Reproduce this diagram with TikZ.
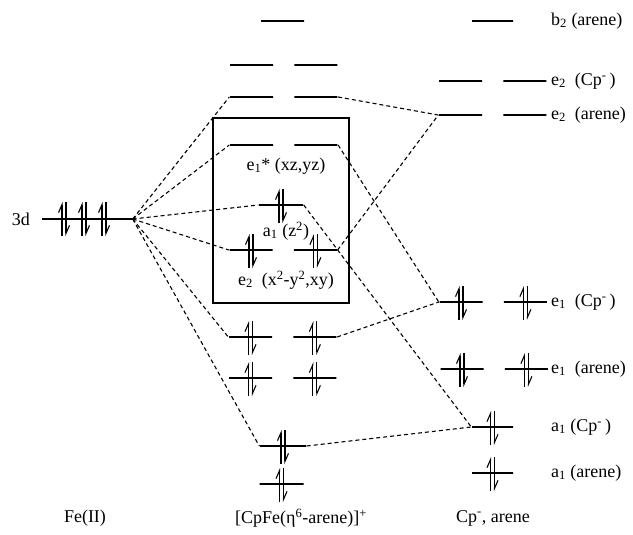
\documentclass[tikz,border=0pt]{standalone}
\usepackage{fontspec}
\setmainfont{Liberation Serif}
\usetikzlibrary{arrows.meta,positioning}

\begin{document}
\begin{tikzpicture}[x=1pt,y=-1pt,node distance=20pt,
    lev/.style={draw,line width=1.4pt,minimum width=43pt,minimum height=0pt,inner sep=0pt},
    link/.style={line width=1.1pt,dash pattern=on 4pt off 3pt},
    spin/.style={line width=1.1pt,-{Straight Barb[left,length=8pt,width=7pt]}},
    lbl/.style={inner sep=0pt,font=\fontsize{18}{20}\selectfont}]
  \useasboundingbox (0,0) rectangle (633,535);

  \node[lev,minimum width=90pt] (d) at (87,219) {};
  \node[lbl] (ld) at (21,219) {3d};

  \node[lev] (b2) at (282.5,21) {};
  \node[lev] (e2ca) at (251.5,65) {};
  \node[lev,right=of e2ca] (e2cb) {};
  \node[lev] (e2sa) at (251.5,97) {};
  \node[lev,right=of e2sa] (e2sb) {};
  \node[lev] (e1sa) at (251.5,145) {};
  \node[lev,right=of e1sa] (e1sb) {};
  \node[lev,minimum width=44pt] (a1z) at (281,205) {};
  \node[lev] (e2na) at (251,250) {};
  \node[lev,right=of e2na] (e2nb) {};
  \node[lev] (e1a) at (250.5,337) {};
  \node[lev,right=of e1a] (e1b) {};
  \node[lev] (e1la) at (250.5,378) {};
  \node[lev,right=of e1la] (e1lb) {};
  \node[lev,minimum width=46pt] (a1b) at (283,446) {};
  \node[lev,minimum width=44pt] (a1l) at (281.5,484) {};
  \node[draw,line width=1.3pt,minimum width=136pt,minimum height=185pt,inner sep=0pt] (box) at (281,210.5) {};

  \node[lev,minimum width=41pt] (Ab2) at (492.5,21) {};
  \node[lev] (Ce2a) at (460.5,81) {};
  \node[lev,right=of Ce2a] (Ce2b) {};
  \node[lev] (Ae2a) at (460.5,115) {};
  \node[lev,right=of Ae2a] (Ae2b) {};
  \node[lev] (Ce1a) at (461,302) {};
  \node[lev,right=of Ce1a] (Ce1b) {};
  \node[lev] (Ae1a) at (462,369) {};
  \node[lev,right=of Ae1a] (Ae1b) {};
  \node[lev,minimum width=41pt] (Ca1) at (492.5,427) {};
  \node[lev,minimum width=41pt] (Aa1) at (492.5,473) {};

  \node[lbl] (le1s) at (286,166) {e\textsubscript{1}* (xz,yz)};
  \node[lbl] (la1z) at (286,231) {a\textsubscript{1} (z\textsuperscript{2})};
  \node[lbl] (le2n) at (286,280) {e\textsubscript{2}\ \ (x\textsuperscript{2}-y\textsuperscript{2},xy)};

  \node[lbl,anchor=west] (lAb2) at (551,21) {b\textsubscript{2} (arene)};
  \node[lbl,anchor=west] (lCe2) at (551,81) {e\textsubscript{2}\ \ (Cp\textsuperscript{-}\,)};
  \node[lbl,anchor=west] (lAe2) at (551,115) {e\textsubscript{2}\ \ (arene)};
  \node[lbl,anchor=west] (lCe1) at (551,302) {e\textsubscript{1}\ \ (Cp\textsuperscript{-}\,)};
  \node[lbl,anchor=west] (lAe1) at (551,369) {e\textsubscript{1}\ \ (arene)};
  \node[lbl,anchor=west] (lCa1) at (551,427) {a\textsubscript{1} (Cp\textsuperscript{-}\,)};
  \node[lbl,anchor=west] (lAa1) at (551,473) {a\textsubscript{1} (arene)};

  \node[lbl] (lFe) at (85,518) {Fe(II)};
  \node[lbl] (lcpx) at (301,518) {[CpFe(η\textsuperscript{6}-arene)]\textsuperscript{+}};
  \node[lbl] (llig) at (493,518) {Cp\textsuperscript{-}, arene};

  \draw[link] (d.east) -- (e2sa.west);
  \draw[link] (d.east) -- (e1sa.west);
  \draw[link] (d.east) -- (a1z.west);
  \draw[link] (d.east) -- (e2na.west);
  \draw[link] (d.east) -- (e1a.west);
  \draw[link] (d.east) -- (a1b.west);
  \draw[link] (e2sb.east) -- (Ae2a.west);
  \draw[link] (e2nb.east) -- (Ae2a.west);
  \draw[link] (e1sb.east) -- (Ce1a.west);
  \draw[link] (e1b.east) -- (Ce1a.west);
  \draw[link] (a1z.east) -- (Ca1.west);
  \draw[link] (a1b.east) -- (Ca1.west);

  \foreach \x in {64,84,104} {
    \draw[spin] (\x-2,236) -- (\x-2,202);
    \draw[spin] (\x+2,202) -- (\x+2,236);
  }
  \foreach \n in {a1z,e2na,e2nb,e1a,e1b,e1la,e1lb,a1b,a1l,Ce1a,Ce1b,Ae1a,Ae1b,Ca1,Aa1} {
    \draw[spin] (\n.center) ++(-2,18) -- ++(0,-34);
    \draw[spin] (\n.center) ++(2,-16) -- ++(0,34);
  }
\end{tikzpicture}
\end{document}
